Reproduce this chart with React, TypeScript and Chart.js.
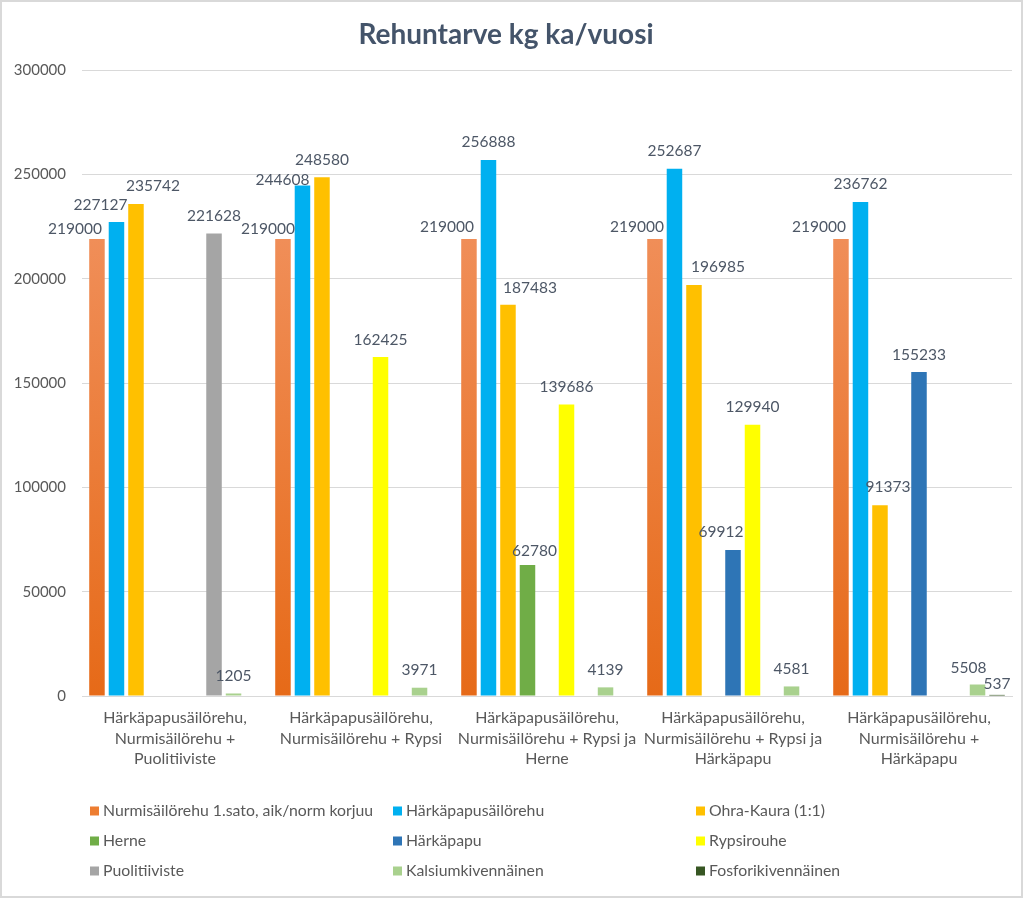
import { useEffect, useRef } from "react";
import { Chart, registerables } from "chart.js";
Chart.register(...registerables);

const titleText = "Rehuntarve kg ka/vuosi";

const categories: string[][] = [
  ["Härkäpapusäilörehu,", "Nurmisäilörehu +", "Puolitiiviste"],
  ["Härkäpapusäilörehu,", "Nurmisäilörehu + Rypsi"],
  ["Härkäpapusäilörehu,", "Nurmisäilörehu + Rypsi ja", "Herne"],
  ["Härkäpapusäilörehu,", "Nurmisäilörehu + Rypsi ja", "Härkäpapu"],
  ["Härkäpapusäilörehu,", "Nurmisäilörehu +", "Härkäpapu"],
];

const seriesNames = [
  "Nurmisäilörehu 1.sato, aik/norm korjuu",
  "Härkäpapusäilörehu",
  "Ohra-Kaura (1:1)",
  "Herne",
  "Härkäpapu",
  "Rypsirouhe",
  "Puolitiiviste",
  "Kalsiumkivennäinen",
  "Fosforikivennäinen",
];

const nurmisailorehu = [219000, 219000, 219000, 219000, 219000];
const harkapapusailorehu = [227127, 244608, 256888, 252687, 236762];
const ohraKaura = [235742, 248580, 187483, 196985, 91373];
const herne = [null, null, 62780, null, null];
const harkapapu = [null, null, null, 69912, 155233];
const rypsirouhe = [null, 162425, 139686, 129940, null];
const puolitiiviste = [221628, null, null, null, null];
const kalsium = [1205, 3971, 4139, 4581, 5508];
const fosfori = [null, null, null, null, 537];

const seriesValues = [
  nurmisailorehu,
  harkapapusailorehu,
  ohraKaura,
  herne,
  harkapapu,
  rypsirouhe,
  puolitiiviste,
  kalsium,
  fosfori,
];

const yTicks = [0, 50000, 100000, 150000, 200000, 250000, 300000];

const seriesColors = [
  "#ED7D31",
  "#00B0F0",
  "#FFC000",
  "#70AD47",
  "#2E75B6",
  "#FFFF00",
  "#A5A5A5",
  "#A9D18E",
  "#375623",
];

// label nudges (dx, rise above bar top) mimicking manually placed labels
const labelNudge: Record<string, [number, number]> = {
  "0:0": [-22, 10],
  "1:0": [-16, 17],
  "2:0": [17, 18],
  "0:1": [-15, 10],
  "1:1": [-20, 6],
  "0:2": [-22, 12],
  "2:2": [22, 17],
  "3:2": [7, 14],
  "0:3": [-18, 12],
  "2:3": [24, 18],
  "4:3": [-12, 18],
  "0:4": [-22, 12],
  "2:4": [8, 18],
  "7:4": [-9, 17],
  "8:4": [0, 11],
};
const defaultNudge: [number, number] = [0, 17.5];

const FONT = "Lato, 'Open Sans', sans-serif";

const backgroundPlugin = {
  id: "bgFrame",
  beforeDraw(chart: any) {
    const c = chart.ctx;
    c.save();
    c.fillStyle = "#FFFFFF";
    c.fillRect(0, 0, chart.width, chart.height);
    c.strokeStyle = "#D9D9D9";
    c.lineWidth = 2;
    c.strokeRect(1, 1, chart.width - 3, chart.height - 4);
    c.restore();
  },
};

const dataLabelPlugin = {
  id: "valueLabels",
  afterDatasetsDraw(chart: any) {
    const c = chart.ctx;
    c.save();
    c.font = `15.5px ${FONT}`;
    c.fillStyle = "#4D5766";
    c.textAlign = "center";
    c.textBaseline = "middle";
    chart.data.datasets.forEach((ds: any, di: number) => {
      const meta = chart.getDatasetMeta(di);
      meta.data.forEach((el: any, i: number) => {
        const v = ds.data[i];
        if (v === null || v === undefined) return;
        const [dx, rise] = labelNudge[`${di}:${i}`] || defaultNudge;
        c.fillText(String(v), el.x + dx, el.y - rise);
      });
    });
    c.restore();
  },
};

const gridLegendPlugin = {
  id: "gridLegend",
  afterDraw(chart: any) {
    const c = chart.ctx;
    const left = chart.chartArea.left + 8;
    const colStep = 303;
    const top = 811;
    const rowStep = 30;
    c.save();
    c.font = `15.8px ${FONT}`;
    c.textBaseline = "middle";
    c.textAlign = "left";
    chart.data.datasets.forEach((ds: any, i: number) => {
      const col = i % 3;
      const row = Math.floor(i / 3);
      const x = left + col * colStep;
      const y = top + row * rowStep;
      c.fillStyle = seriesColors[i];
      c.fillRect(x, y - 4.5, 9, 9);
      c.fillStyle = "#595959";
      c.fillText(ds.label, x + 13, y);
    });
    c.restore();
  },
};

export default function App() {
  const ref = useRef<HTMLCanvasElement>(null);
  useEffect(() => {
    if (!ref.current) return;
    const datasets = seriesNames.map((name, i) => ({
      label: name,
      data: seriesValues[i],
      backgroundColor:
        i === 0
          ? (ctx: any) => {
              const chart = ctx.chart;
              const area = chart.chartArea;
              if (!area || ctx.raw == null) return seriesColors[0];
              const yTop = chart.scales.y.getPixelForValue(ctx.raw);
              const g = chart.ctx.createLinearGradient(0, area.bottom, 0, yTop);
              g.addColorStop(0, "#E66A18");
              g.addColorStop(1, "#F08E58");
              return g;
            }
          : seriesColors[i],
      borderWidth: 0,
      barPercentage: 0.795,
      categoryPercentage: 0.944,
    }));
    const chart = new Chart(ref.current, {
      type: "bar",
      data: { labels: categories as any, datasets: datasets as any },
      options: {
        responsive: false,
        animation: false,
        layout: { padding: { left: 0, right: 12, top: 0, bottom: 0 } },
        plugins: {
          legend: { display: false },
          tooltip: { enabled: false },
          title: {
            display: true,
            text: titleText,
            color: "#44546A",
            font: { family: FONT, size: 28, weight: "bold", lineHeight: 1.2 },
            padding: { top: 18, bottom: 18.4 },
          },
        },
        scales: {
          x: {
            grid: { display: false, drawTicks: false },
            border: { display: true, color: "#D9D9D9" },
            ticks: {
              color: "#595959",
              font: { family: FONT, size: 16, lineHeight: 1.27 },
              padding: 12,
              maxRotation: 0,
              autoSkip: false,
            },
            afterFit: (s: any) => {
              s.height = 204;
            },
          },
          y: {
            min: 0,
            max: 300000,
            afterBuildTicks: (s: any) => {
              s.ticks = yTicks.map((v) => ({ value: v }));
            },
            grid: { color: "#D9D9D9", drawTicks: false },
            border: { display: false },
            ticks: {
              color: "#595959",
              font: { family: FONT, size: 15 },
              padding: 16,
              callback: (v: any) => String(v),
            },
            afterFit: (s: any) => {
              s.width = 82;
            },
          },
        },
      },
      plugins: [backgroundPlugin, dataLabelPlugin, gridLegendPlugin],
    });
    return () => chart.destroy();
  }, []);
  return (
    <div style={{ position: "absolute", left: 0, top: 0, width: 1024, height: 900 }}>
      <canvas ref={ref} width={1024} height={900} style={{ display: "block" }} />
    </div>
  );
}
